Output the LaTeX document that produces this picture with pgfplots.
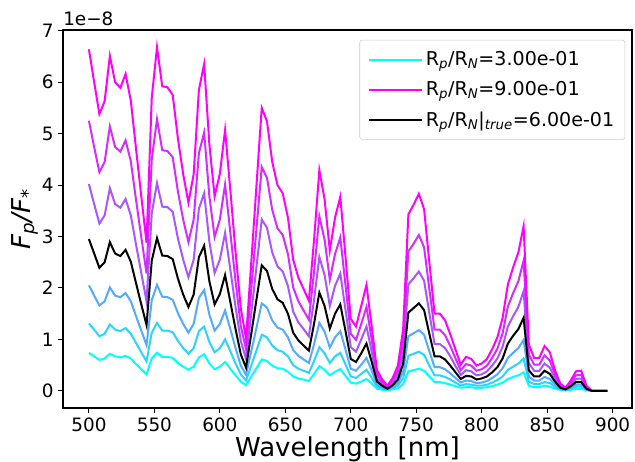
\documentclass[border=0pt]{standalone}
\usepackage{fontspec}
\setmainfont{DejaVu Sans}
\usepackage{pgfplots}
\usepackage{pgfplotstable}
\pgfplotsset{compat=1.18}
\usetikzlibrary{calc}

\definecolor{cA}{HTML}{00FFFF}
\definecolor{cB}{HTML}{2AD4FF}
\definecolor{cC}{HTML}{55AAFF}
\definecolor{cE}{HTML}{AA55FF}
\definecolor{cF}{HTML}{D42BFF}
\definecolor{cG}{HTML}{FF00FF}

\newcommand{\tickfont}{\fontsize{13.8}{16}\selectfont}
\newcommand{\legfont}{\fontsize{14.3}{16}\selectfont}
\newcommand{\labfont}{\fontsize{19.5}{22}\selectfont}

% F_p/F_* in units of 1e-8, one column per R_p/R_N (0.3 ... 0.9)
\pgfplotstableread{
x   r3   r4   r5   r6   r7   r8   r9
500 0.74 1.31 2.05 2.95 4.02 5.25 6.64
504 0.67 1.19 1.85 2.67 3.63 4.74 6.00
508 0.60 1.06 1.66 2.39 3.25 4.25 5.38
512 0.63 1.11 1.74 2.50 3.41 4.45 5.63
516 0.72 1.29 2.01 2.89 3.94 5.14 6.51
520 0.67 1.19 1.85 2.67 3.63 4.74 6.00
524 0.65 1.16 1.82 2.62 3.56 4.65 5.89
528 0.68 1.22 1.90 2.74 3.73 4.87 6.16
532 0.63 1.11 1.74 2.51 3.41 4.46 5.64
536 0.52 0.93 1.45 2.09 2.84 3.71 4.70
540 0.42 0.75 1.17 1.68 2.29 2.99 3.78
544 0.32 0.57 0.89 1.28 1.74 2.28 2.88
548 0.63 1.13 1.76 2.53 3.45 4.50 5.70
552 0.74 1.32 2.06 2.97 4.04 5.28 6.68
556 0.66 1.17 1.83 2.63 3.58 4.68 5.92
560 0.66 1.17 1.82 2.62 3.57 4.66 5.90
564 0.64 1.14 1.77 2.56 3.48 4.54 5.75
568 0.54 0.97 1.51 2.18 2.96 3.87 4.90
572 0.47 0.83 1.30 1.87 2.55 3.33 4.21
576 0.41 0.72 1.13 1.63 2.21 2.89 3.66
580 0.47 0.83 1.30 1.87 2.55 3.33 4.21
584 0.65 1.16 1.81 2.60 3.54 4.62 5.85
588 0.71 1.25 1.96 2.82 3.84 5.02 6.35
592 0.53 0.95 1.48 2.13 2.90 3.78 4.79
596 0.42 0.75 1.17 1.68 2.29 2.99 3.78
600 0.47 0.83 1.30 1.88 2.55 3.33 4.22
604 0.56 1.00 1.56 2.25 3.07 4.01 5.07
608 0.43 0.77 1.20 1.73 2.36 3.08 3.90
612 0.30 0.53 0.83 1.20 1.63 2.13 2.70
616 0.18 0.32 0.49 0.71 0.97 1.26 1.60
620 0.11 0.20 0.31 0.45 0.62 0.81 1.02
624 0.28 0.49 0.77 1.11 1.51 1.98 2.50
628 0.44 0.79 1.23 1.78 2.42 3.16 4.00
632 0.61 1.09 1.70 2.44 3.33 4.35 5.50
636 0.58 1.04 1.62 2.33 3.17 4.14 5.24
640 0.49 0.88 1.37 1.98 2.69 3.52 4.45
644 0.44 0.79 1.23 1.78 2.42 3.16 4.00
648 0.43 0.76 1.19 1.71 2.32 3.03 3.84
652 0.37 0.67 1.04 1.50 2.04 2.66 3.37
656 0.28 0.50 0.79 1.13 1.54 2.01 2.55
660 0.24 0.43 0.68 0.98 1.33 1.74 2.20
664 0.22 0.39 0.61 0.88 1.20 1.56 1.98
668 0.19 0.35 0.54 0.78 1.06 1.38 1.75
672 0.33 0.58 0.91 1.31 1.78 2.33 2.95
676 0.48 0.85 1.32 1.91 2.60 3.39 4.29
680 0.41 0.73 1.15 1.65 2.25 2.94 3.72
684 0.30 0.54 0.84 1.21 1.65 2.16 2.73
688 0.37 0.67 1.04 1.50 2.04 2.66 3.37
692 0.42 0.74 1.16 1.68 2.28 2.98 3.77
696 0.29 0.51 0.80 1.16 1.57 2.05 2.60
700 0.16 0.28 0.43 0.62 0.85 1.11 1.40
704 0.14 0.25 0.39 0.56 0.76 0.99 1.25
708 0.18 0.33 0.51 0.73 1.00 1.30 1.65
712 0.23 0.41 0.64 0.92 1.25 1.63 2.06
716 0.14 0.25 0.39 0.56 0.76 0.99 1.25
720 0.04 0.08 0.12 0.18 0.24 0.32 0.40
724 0.02 0.04 0.07 0.10 0.13 0.17 0.22
728 0.01 0.02 0.03 0.04 0.06 0.08 0.10
732 0.03 0.05 0.08 0.11 0.15 0.20 0.25
736 0.05 0.10 0.15 0.22 0.30 0.39 0.49
740 0.13 0.24 0.37 0.53 0.73 0.95 1.20
744 0.38 0.68 1.06 1.52 2.07 2.71 3.43
748 0.40 0.72 1.12 1.61 2.19 2.86 3.62
752 0.43 0.76 1.18 1.70 2.32 3.03 3.83
756 0.39 0.70 1.09 1.57 2.14 2.79 3.53
760 0.28 0.49 0.77 1.11 1.51 1.98 2.50
764 0.17 0.30 0.46 0.67 0.91 1.19 1.50
768 0.17 0.30 0.46 0.67 0.91 1.19 1.50
772 0.15 0.27 0.42 0.61 0.83 1.08 1.37
776 0.12 0.22 0.34 0.49 0.67 0.87 1.10
780 0.09 0.16 0.25 0.36 0.48 0.63 0.80
784 0.06 0.10 0.16 0.23 0.31 0.40 0.51
788 0.07 0.13 0.20 0.29 0.40 0.52 0.66
792 0.07 0.12 0.19 0.28 0.38 0.49 0.62
796 0.05 0.10 0.15 0.22 0.30 0.39 0.49
800 0.06 0.10 0.16 0.24 0.32 0.42 0.53
804 0.07 0.12 0.19 0.28 0.38 0.49 0.62
808 0.09 0.16 0.25 0.36 0.49 0.64 0.81
812 0.12 0.21 0.32 0.46 0.63 0.82 1.04
816 0.16 0.28 0.44 0.63 0.86 1.12 1.42
820 0.23 0.41 0.64 0.92 1.25 1.64 2.07
824 0.27 0.47 0.74 1.07 1.45 1.90 2.40
828 0.30 0.53 0.83 1.20 1.63 2.13 2.69
832 0.36 0.63 0.99 1.42 1.94 2.53 3.20
836 0.10 0.18 0.28 0.40 0.54 0.71 0.90
840 0.07 0.13 0.20 0.28 0.39 0.51 0.64
844 0.07 0.13 0.20 0.28 0.39 0.51 0.64
848 0.10 0.17 0.27 0.39 0.53 0.69 0.87
852 0.08 0.15 0.23 0.33 0.45 0.59 0.75
856 0.04 0.08 0.12 0.18 0.24 0.32 0.40
860 0.02 0.03 0.04 0.06 0.08 0.11 0.14
864 0.01 0.01 0.02 0.03 0.04 0.05 0.06
868 0.02 0.04 0.06 0.09 0.12 0.16 0.20
872 0.04 0.08 0.12 0.17 0.23 0.30 0.38
876 0.04 0.08 0.12 0.17 0.24 0.31 0.39
880 0.01 0.02 0.03 0.04 0.06 0.08 0.10
884 0.00 0.00 0.00 0.00 0.00 0.00 0.00
888 0.00 0.00 0.00 0.00 0.00 0.00 0.00
892 0.00 0.00 0.00 0.00 0.00 0.00 0.00
896 0.00 0.00 0.00 0.00 0.00 0.00 0.00
}\spectra

\begin{document}
\begin{tikzpicture}
\begin{axis}[
  scale only axis,
  width=426.75pt, height=283.5pt,
  xmin=480.2, xmax=914.8,
  ymin=-0.334, ymax=7.014,
  xtick={500,550,...,900},
  ytick={0,1,...,7},
  tick align=outside,
  xtick pos=left, ytick pos=left,
  major tick length=3.6pt,
  tick style={black, line width=0.8pt},
  axis line style={line width=0.8pt},
  ticklabel style={font=\tickfont},
  /pgf/number format/assume math mode=true,
  xlabel={Wavelength [nm]},
  ylabel={\itshape F\textsubscript{p}/F\textsubscript{*}},
  label style={font=\labfont},
  xlabel style={at={(axis description cs:0.5,-0.128)}, anchor=base},
  ylabel style={at={(axis description cs:-0.067,0.5)}, anchor=center},
  legend cell align=left,
  legend style={at={(0.988,0.974)}, anchor=north east,
    font=\legfont, draw=black!20, rounded corners=2pt,
    fill=white, fill opacity=0.8, text opacity=1,
    row sep=6.5pt, inner xsep=6pt, inner ysep=6.5pt,
    /tikz/every even column/.append style={column sep=9pt}},
  legend image code/.code={\draw[#1] (0pt,0pt) -- (40pt,0pt);},
  every axis plot/.append style={line width=1.5pt},
]
\addplot[cA] table[x=x, y=r3] {\spectra};
\addlegendentry{R\textsubscript{\itshape p}/R\textsubscript{\itshape N}=3.00e-01}
\addplot[cB, forget plot] table[x=x, y=r4] {\spectra};
\addplot[cC, forget plot] table[x=x, y=r5] {\spectra};
\addplot[cE, forget plot] table[x=x, y=r7] {\spectra};
\addplot[cF, forget plot] table[x=x, y=r8] {\spectra};
\addplot[cG] table[x=x, y=r9] {\spectra};
\addlegendentry{R\textsubscript{\itshape p}/R\textsubscript{\itshape N}=9.00e-01}
\addplot[black] table[x=x, y=r6] {\spectra};
\addlegendentry{R\textsubscript{\itshape p}/R\textsubscript{\itshape N}|\textsubscript{\itshape true}=6.00e-01}
\end{axis}
\node[anchor=base west, inner sep=0pt, font=\tickfont]
  at ($(current axis.north west)+(0,3pt)$) {1e−8};
\pgfresetboundingbox
\path[use as bounding box]
  ($(current axis.south west)+(-47.25pt,-39.75pt)$)
  rectangle ($(current axis.north east)+(2.25pt,22.5pt)$);
\end{tikzpicture}
\end{document}
